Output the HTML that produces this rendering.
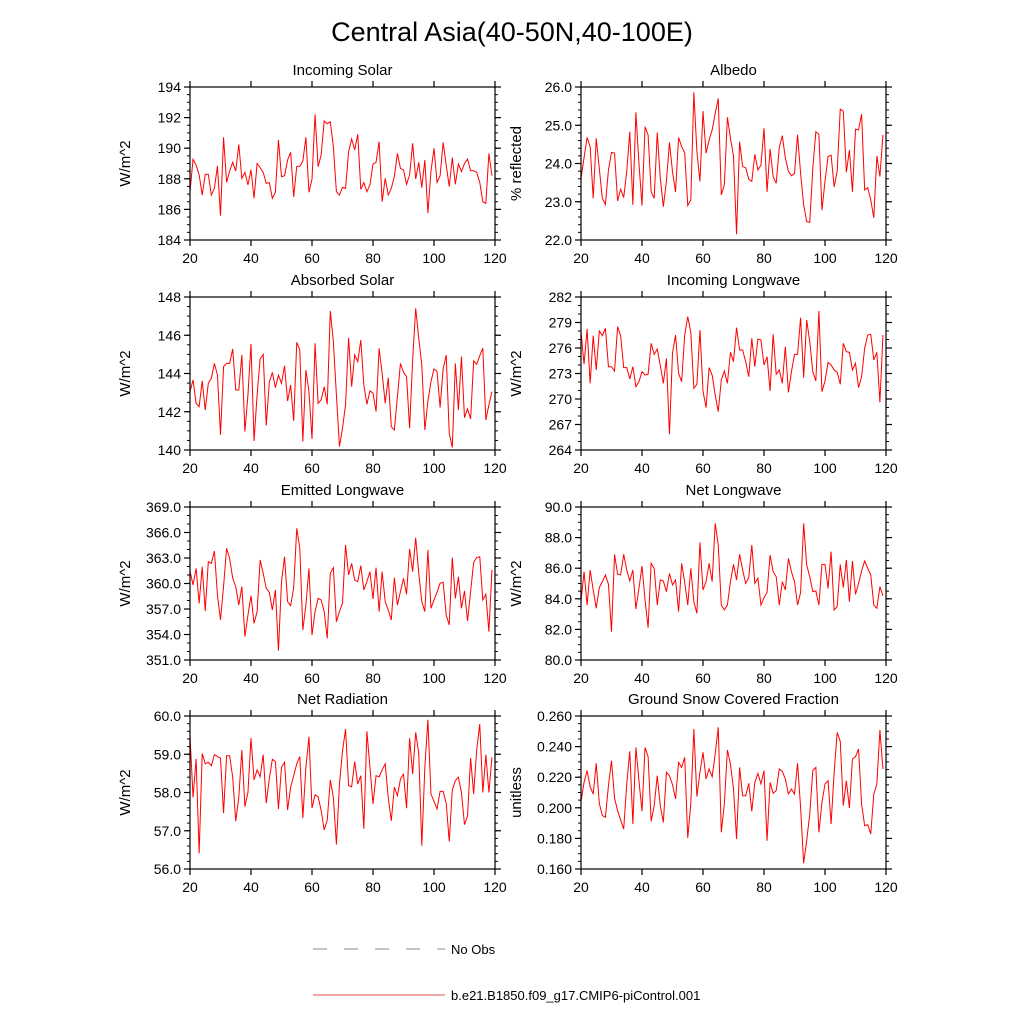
<!DOCTYPE html>
<html><head><meta charset="utf-8"><style>
html,body{margin:0;padding:0;background:#fff;}
svg{display:block;font-family:"Liberation Sans",sans-serif;}
</style></head><body>
<svg id="chart" width="1024" height="1024" viewBox="0 0 1024 1024">
<text x="512" y="41" text-anchor="middle" font-size="27">Central Asia(40-50N,40-100E)</text>
<g>
<line x1="313" y1="949" x2="445" y2="949" stroke="#666" stroke-width="0.8" stroke-dasharray="14,17"/>
<text x="451" y="954" font-size="13">No Obs</text>
<line x1="313" y1="995" x2="445" y2="995" stroke="#e05050" stroke-width="1"/>
<text x="451" y="1000" font-size="13">b.e21.B1850.f09_g17.CMIP6-piControl.001</text>
</g>
</svg>
<script>
const years=[];for(let i=0;i<100;i++)years.push(20+i);
const xTicks=[20,40,60,80,100,120];
const titles=["Incoming Solar","Albedo","Absorbed Solar","Incoming Longwave","Emitted Longwave","Net Longwave","Net Radiation","Ground Snow Covered Fraction"];
const yTitles=["W/m^2","% reflected","W/m^2","W/m^2","W/m^2","W/m^2","W/m^2","unitless"];
const yMins=[184,22,140,264,351,80,56,0.16];
const yMaxs=[194,26,148,282,369,90,60,0.26];
const yMajor=[2,1,2,3,3,2,1,0.02];
const yMinor=[0.5,0.2,0.5,1,1,0.5,0.2,0.005];
const yDec=[0,1,0,0,1,1,1,3];
const sIncSolar=[187.16,189.27,188.9,188.25,186.94,188.29,188.29,186.94,187.38,188.84,185.59,190.71,187.77,188.51,189.08,188.51,190.25,188.03,188.42,187.6,188.6,186.72,189.0,188.73,188.42,187.7,187.75,186.72,187.12,190.54,188.14,188.2,189.23,189.73,186.81,188.81,188.81,189.16,190.71,187.12,187.97,192.21,188.79,189.56,191.78,191.6,191.73,190.1,187.16,186.94,187.44,187.38,189.77,190.6,189.88,190.91,187.31,187.75,187.16,187.6,188.97,189.08,190.43,186.5,188.03,186.94,187.38,188.14,189.66,188.68,188.58,187.64,188.25,190.32,187.99,189.08,187.42,189.23,185.76,188.47,189.99,187.77,188.2,190.38,188.9,187.49,189.38,187.64,188.97,188.47,189.0,189.29,188.53,188.53,188.42,187.77,186.5,186.4,189.66,188.2];
const sAlbedo=[23.61,24.15,24.68,24.44,23.09,24.66,23.87,23.09,22.93,23.83,24.29,24.27,23.02,23.33,23.11,23.80,24.83,22.92,25.34,24.0,22.90,24.96,24.75,23.26,23.09,24.81,23.61,22.87,23.53,24.55,23.79,23.26,24.68,24.44,24.28,22.90,23.05,25.86,24.31,23.53,25.37,24.27,24.61,24.88,25.31,25.70,23.18,23.44,25.21,24.66,24.20,22.15,24.57,23.92,23.89,23.59,23.53,24.24,23.83,23.96,24.92,23.26,24.38,23.66,23.48,24.41,24.73,24.14,23.80,23.68,23.74,24.75,23.74,22.92,22.48,22.46,23.87,24.83,24.76,22.78,23.53,24.18,24.22,23.39,23.80,25.42,25.37,23.77,24.35,23.26,24.90,24.88,25.29,23.31,23.37,23.05,22.58,24.20,23.66,24.75];
const sAbsSolar=[143.05,143.66,142.44,142.27,143.61,142.09,143.49,143.75,144.53,143.92,140.79,144.36,144.53,144.53,145.28,143.14,143.14,144.97,140.96,142.88,145.54,140.47,142.88,144.76,145.0,141.28,143.54,144.06,143.26,143.92,143.49,144.41,142.56,143.4,141.52,145.63,145.23,140.44,144.18,143.05,140.58,145.58,142.44,142.62,143.31,142.39,147.27,145.67,142.88,140.18,141.14,142.36,145.87,143.31,144.97,144.62,145.75,143.4,142.39,143.09,142.97,142.01,145.32,144.01,142.44,143.78,141.22,141.05,142.79,144.53,144.06,143.84,141.14,144.71,147.41,145.84,144.45,141.05,142.56,143.57,144.24,144.1,142.22,144.24,144.97,140.87,140.13,144.53,142.09,144.88,141.69,142.15,141.62,144.66,144.48,144.93,145.32,141.57,142.36,143.05];
const sIncLW=[277.92,274.08,278.24,271.84,277.45,273.41,278.0,277.45,278.31,273.8,273.8,273.29,278.51,277.45,273.69,273.69,272.35,273.8,271.45,272.04,273.22,272.82,272.9,276.55,275.25,275.88,273.92,271.84,274.78,265.84,275.37,277.53,273.02,272.04,277.53,279.69,277.84,271.25,271.73,278.12,270.94,268.98,273.69,272.82,270.47,268.51,272.24,273.29,271.84,275.49,274.39,278.39,275.76,275.76,274.39,272.63,277.14,273.8,277.06,276.94,274.0,274.98,270.94,277.61,272.9,273.41,271.84,276.16,270.78,273.22,275.25,275.25,279.57,272.51,279.29,276.75,273.22,272.12,280.35,270.86,272.12,274.31,274.0,273.41,273.14,271.73,276.55,275.57,275.49,273.41,274.2,271.33,272.63,275.96,277.53,277.61,274.59,275.49,269.61,277.53];
const sEmitLW=[361.47,359.82,361.78,357.67,361.98,356.76,362.57,362.37,363.82,358.65,355.71,359.63,364.14,362.96,360.61,359.63,357.47,359.63,353.75,356.29,358.57,355.31,356.69,362.76,361.2,359.43,358.96,356.88,359.24,352.1,360.22,363.16,357.86,357.39,359.51,366.49,364.14,354.53,357.47,361.78,353.94,356.69,358.25,358.06,356.69,353.55,361.2,361.86,355.51,356.69,357.67,364.53,361.0,362.37,360.41,360.22,362.1,359.24,360.22,361.39,358.18,361.86,356.69,361.39,357.86,356.88,355.71,360.69,357.47,359.04,360.61,358.73,364.06,361.39,365.39,361.2,357.86,356.69,363.94,357.08,358.06,358.96,360.02,360.14,356.29,355.12,363.04,358.25,360.8,357.08,359.12,355.59,359.04,362.49,363.04,363.16,358.06,358.73,354.33,361.59];
const sNetLW=[83.81,85.77,83.59,85.88,84.58,83.38,84.73,85.12,85.56,84.95,81.85,86.91,85.6,85.56,86.91,85.88,85.16,85.88,83.33,84.68,86.14,83.92,82.11,86.32,85.99,83.59,85.23,85.16,84.47,85.66,84.9,85.23,83.16,86.32,85.08,83.59,85.99,83.81,83.05,87.69,84.58,85.12,86.32,85.12,88.93,87.52,83.59,83.27,83.59,85.12,86.25,85.23,86.91,85.88,85.01,85.38,87.52,85.01,85.34,83.59,84.07,84.42,86.86,85.77,85.45,83.59,85.12,84.58,86.64,85.77,85.12,83.59,84.42,88.93,86.21,85.45,84.47,84.51,83.59,86.25,86.25,84.68,87.08,83.27,83.49,86.25,84.73,86.54,83.81,86.47,84.29,85.01,85.82,86.47,85.99,85.56,83.59,83.38,84.79,84.2];
const sNetRad=[59.49,57.87,58.88,56.41,59.02,58.75,58.79,58.7,58.99,58.94,58.9,57.46,58.96,58.96,58.4,57.25,57.87,59.11,57.63,58.0,59.42,58.33,58.59,58.41,58.99,57.72,58.35,58.87,58.81,57.57,58.66,58.79,57.54,58.14,58.44,58.75,58.94,57.33,58.66,59.46,57.59,57.94,57.89,57.53,57.02,57.28,58.33,57.87,56.64,58.22,59.08,59.66,58.18,58.15,58.81,58.22,58.44,57.05,59.6,58.66,57.7,58.44,58.41,58.59,58.75,57.87,57.26,58.14,57.92,58.35,58.48,57.59,59.42,58.48,59.57,59.02,56.61,58.66,59.9,57.96,57.77,57.57,58.03,58.03,57.72,56.72,58.07,58.31,58.4,58.0,57.16,57.39,58.9,57.96,59.11,59.79,58.0,58.99,58.0,58.92];
const sSnow=[0.2042,0.2166,0.2243,0.2138,0.209,0.2291,0.2029,0.1949,0.1938,0.2145,0.2308,0.2064,0.1981,0.192,0.1861,0.2156,0.2369,0.1894,0.2395,0.2177,0.1977,0.2395,0.2334,0.1912,0.2014,0.221,0.2014,0.1905,0.2232,0.221,0.2151,0.2058,0.2297,0.2264,0.233,0.1803,0.2025,0.2515,0.2073,0.2232,0.2363,0.2188,0.2254,0.2203,0.2352,0.2526,0.184,0.2025,0.2378,0.2286,0.2123,0.1796,0.2264,0.2079,0.2079,0.216,0.1977,0.2166,0.2225,0.2156,0.2243,0.1785,0.2166,0.2095,0.2112,0.2254,0.2238,0.2188,0.209,0.2123,0.209,0.2291,0.2003,0.1637,0.1785,0.196,0.2243,0.2264,0.184,0.2036,0.2156,0.2177,0.1894,0.2232,0.2493,0.2434,0.2014,0.2177,0.1999,0.2319,0.2334,0.2384,0.2025,0.1883,0.189,0.1829,0.209,0.2156,0.2508,0.2254];
const series=[sIncSolar,sAlbedo,sAbsSolar,sIncLW,sEmitLW,sNetLW,sNetRad,sSnow];

const NS="http://www.w3.org/2000/svg";
const svg=document.getElementById('chart');
const colX=[190,581], rowY=[87,297,507,716], PW=305, PH=153;
function mk(tag,attrs,parent){const e=document.createElementNS(NS,tag);for(const k in attrs)e.setAttribute(k,attrs[k]);parent.appendChild(e);return e;}
function slug(s){return s.toLowerCase().replace(/[^a-z0-9]+/g,'-').replace(/^-|-$/g,'');}
for(let p=0;p<8;p++){
  const x0=colX[p%2], y0=rowY[Math.floor(p/2)];
  const ymin=yMins[p], ymax=yMaxs[p];
  const sx=v=>x0+(v-20)/100*PW;
  const sy=v=>y0+PH-(v-ymin)/(ymax-ymin)*PH;
  const g=mk('g',{},svg);
  
  
  const t=mk('text',{x:x0+PW/2,y:y0-12,'text-anchor':'middle','font-size':15},g);
  t.textContent=titles[p];
  
  
  const yl=mk('text',{x:0,y:0,'text-anchor':'middle','font-size':15,transform:`translate(${x0-60},${y0+PH/2}) rotate(-90)`},g);
  yl.textContent=yTitles[p];
  
  
  const nMin=Math.round((ymax-ymin)/yMinor[p]);
  for(let i=0;i<=nMin;i++){const yy=sy(ymin+i*yMinor[p]);
    const a=mk('line',{x1:x0-3,x2:x0,y1:yy,y2:yy,stroke:'#000','stroke-width':1},g);
    
    const b=mk('line',{x1:x0+PW,x2:x0+PW+3,y1:yy,y2:yy,stroke:'#000','stroke-width':1},g);
    }
  const nMaj=Math.round((ymax-ymin)/yMajor[p]);
  for(let i=0;i<=nMaj;i++){const v=ymin+i*yMajor[p];const yy=sy(v);
    const a=mk('line',{x1:x0-6,x2:x0,y1:yy,y2:yy,stroke:'#000','stroke-width':1.2},g);
    
    const b=mk('line',{x1:x0+PW,x2:x0+PW+6,y1:yy,y2:yy,stroke:'#000','stroke-width':1.2},g);
    
    const lt=mk('text',{x:x0-9,y:yy+5,'text-anchor':'end','font-size':14},g);
    lt.textContent=v.toFixed(yDec[p]);
    }
  xTicks.forEach(v=>{const xx=sx(v);
    const a=mk('line',{x1:xx,x2:xx,y1:y0+PH,y2:y0+PH+6,stroke:'#000','stroke-width':1.2},g);
    
    const b=mk('line',{x1:xx,x2:xx,y1:y0-6,y2:y0,stroke:'#000','stroke-width':1.2},g);
    
    const lt=mk('text',{x:xx,y:y0+PH+23,'text-anchor':'middle','font-size':14},g);
    lt.textContent=v;
    });
  const d=series[p].map((v,i)=>(i?'L':'M')+sx(years[i]).toFixed(2)+','+sy(v).toFixed(2)).join('');
  const ln=mk('path',{d:d,fill:'none',stroke:'#ff0000','stroke-width':1},g);
  
  
  const fr=mk('rect',{x:x0,y:y0,width:PW,height:PH,fill:'none',stroke:'#000','stroke-width':1.2},g);
  
  
}
</script>
</body></html>
